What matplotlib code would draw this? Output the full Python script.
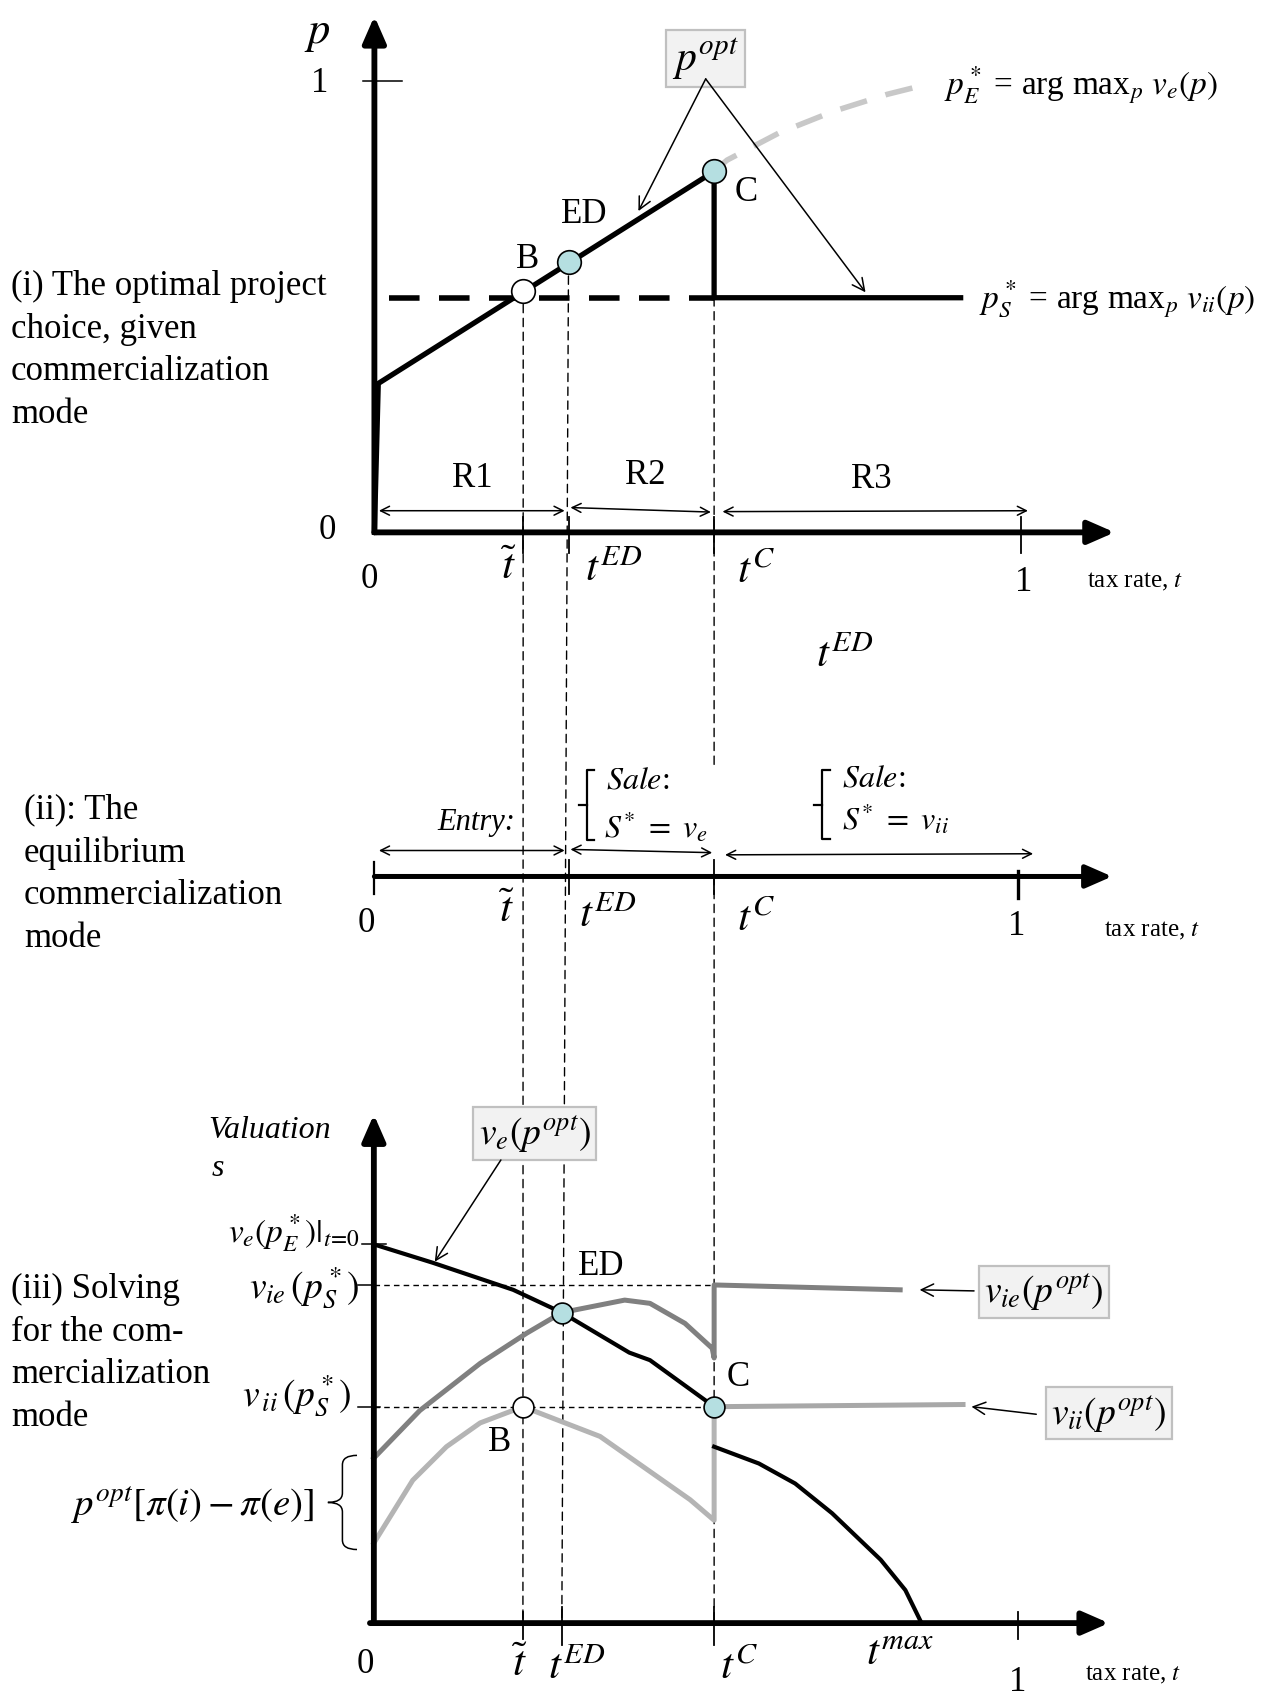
import matplotlib
matplotlib.use('Agg')
import matplotlib.pyplot as plt
from matplotlib.patches import ConnectionPatch, PathPatch
from matplotlib.path import Path

plt.rcParams['font.family'] = 'serif'
plt.rcParams['font.serif'] = ['Liberation Serif', 'DejaVu Serif']
plt.rcParams['mathtext.fontset'] = 'stix'

# key tax rates
t_tilde = 0.23
t_ed = 0.30
t_ed_iii = 0.29      # drawn slightly to the left in panel (iii)
t_c = 0.525
t_max = 0.845

# (i) optimal project choice
p_opt_t = [0.0, 0.006, t_c, t_c, 0.906]
p_opt_v = [0.0, 0.33, 0.80, 0.52, 0.52]
p_s = 0.52
p_s_dash_t = [0.023, t_c]
p_e_t = [t_c, 0.545, 0.625, 0.709, 0.793, 0.860]
p_e_v = [0.80, 0.825, 0.885, 0.933, 0.971, 0.995]
pt_B = (t_tilde, 0.536)
pt_ED = (t_ed, 0.599)
pt_C = (t_c, 0.80)

# (iii) valuations
ve_t = [0.0, 0.091, 0.215, t_ed_iii, 0.394, 0.426, t_c]
ve_v = [0.70, 0.666, 0.616, 0.574, 0.50, 0.486, 0.40]
ve2_t = [t_c, 0.594, 0.650, 0.707, 0.782, 0.820, t_max]
ve2_v = [0.326, 0.295, 0.258, 0.203, 0.117, 0.061, 0.0]
vie_t = [0.0, 0.071, 0.164, 0.236, t_ed_iii, 0.387, 0.426, 0.48, 0.522, t_c, t_c, 0.812]
vie_v = [0.305, 0.393, 0.48, 0.536, 0.574, 0.597, 0.591, 0.554, 0.508, 0.49, 0.625, 0.616]
vii_t = [0.0, 0.06, 0.112, 0.164, t_tilde, 0.349, 0.488, t_c, t_c]
vii_v = [0.148, 0.264, 0.326, 0.37, 0.40, 0.345, 0.228, 0.19, 0.40]
vii2_t = [t_c, 0.909]
vii2_v = [0.40, 0.404]
v_e0 = 0.70
v_ie_s = 0.625
v_ii_s = 0.40
q_B = (t_tilde, 0.40)
q_ED = (t_ed_iii, 0.574)
q_C = (t_c, 0.40)

W, H = 1279, 1697
K = W / 1182.0
LB = '#b5dfe1'

fig = plt.figure(figsize=(W / 100, H / 100), dpi=100)


def panel(ox, oy, sx, sy, xlim, ylim):
    x0 = (ox + xlim[0] * sx) * K
    x1 = (ox + xlim[1] * sx) * K
    yb = (oy - ylim[0] * sy) * K
    yt = (oy - ylim[1] * sy) * K
    ax = fig.add_axes([x0 / W, 1 - yb / H, (x1 - x0) / W, (yb - yt) / H])
    ax.set_xlim(xlim)
    ax.set_ylim(ylim)
    ax.set_axis_off()
    return ax


def axis_arrow(ax, start, end, lw=4.2):
    ax.annotate('', xy=end, xytext=start,
                arrowprops=dict(arrowstyle='-|>,head_length=0.8,head_width=0.35',
                                mutation_scale=20, lw=lw, color='k',
                                shrinkA=0, shrinkB=0))


def span(ax, a, b, y, y2=None):
    ax.annotate('', xy=(b, y if y2 is None else y2), xytext=(a, y),
                arrowprops=dict(arrowstyle='<->', mutation_scale=16, lw=1.1,
                                color='k', shrinkA=0, shrinkB=0))


def pointer(ax, frm, to):
    ax.annotate('', xy=to, xytext=frm,
                arrowprops=dict(arrowstyle='->', mutation_scale=22, lw=1.1,
                                color='k', shrinkA=0, shrinkB=0))


def curly(ax, x, y0, y1, w):
    ym = (y0 + y1) / 2
    h = (y1 - y0) * 0.1
    verts = [(x, y1), (x - w / 2, y1), (x - w / 2, y1 - h),
             (x - w / 2, ym + h), (x - w / 2, ym), (x - w, ym),
             (x - w / 2, ym), (x - w / 2, ym - h),
             (x - w / 2, y0 + h), (x - w / 2, y0), (x, y0)]
    codes = [Path.MOVETO, Path.CURVE3, Path.CURVE3, Path.LINETO,
             Path.CURVE3, Path.CURVE3, Path.CURVE3, Path.CURVE3,
             Path.LINETO, Path.CURVE3, Path.CURVE3]
    ax.add_patch(PathPatch(Path(verts, codes), fill=False, lw=1.1, color='k'))


def bracket(ax, x, y0, y1, w):
    ym = (y0 + y1) / 2
    ax.plot([x + w, x, x, x + w], [y1, y1, y0, y0], color='k', lw=1.6)
    ax.plot([x, x - w], [ym, ym], color='k', lw=1.6)


box = dict(boxstyle='square,pad=0.15', fc='#f2f2f2', ec='#c0c0c0', lw=1.6)
FS = 25
TS = 31

# ---------------- panel (i) ----------------
ax1 = panel(346, 492, 598, 417, (-0.1, 1.4), (-0.3, 1.2))
axis_arrow(ax1, (0, 0), (1.144, 0))
axis_arrow(ax1, (0, 0), (0, 1.144))
ax1.plot([-0.018, 0.043], [1, 1], color='k', lw=1.1)
for tt in [t_tilde, t_ed, t_c, 1.0]:
    ax1.plot([tt, tt], [-0.045, 0.035], color='k', lw=1.3)
ax1.plot(p_e_t, p_e_v, color='#c8c8c8', lw=4, dashes=(5, 3.5), solid_capstyle='butt')
ax1.plot(p_s_dash_t, [p_s, p_s], color='k', lw=4, dashes=(5.5, 3.5))
ax1.plot(p_opt_t, p_opt_v, color='k', lw=3.8, solid_joinstyle='miter')
ax1.plot(*pt_B, 'o', ms=17, mfc='white', mec='k', mew=1.2, zorder=5)
ax1.plot(*pt_ED, 'o', ms=17, mfc=LB, mec='k', mew=1.2, zorder=5)
ax1.plot(*pt_C, 'o', ms=17, mfc=LB, mec='k', mew=1.2, zorder=5)
ax1.text(0.236, 0.604, 'B', fontsize=FS, ha='center', va='center')
ax1.text(0.324, 0.705, 'ED', fontsize=FS, ha='center', va='center')
ax1.text(0.575, 0.753, 'C', fontsize=FS, ha='center', va='center')
ax1.text(0.512, 1.05, r'$p^{opt}$', fontsize=30, ha='center', va='center', bbox=box)
pointer(ax1, (0.512, 1.005), (0.408, 0.712))
pointer(ax1, (0.512, 1.005), (0.759, 0.532))
ax1.text(0.88, 0.99, r'$p^*_E$ = arg max$_p$ $v_e(p)$', fontsize=24, ha='left', va='center')
ax1.text(0.935, 0.516, r'$p^*_S$ = arg max$_p$ $v_{ii}(p)$', fontsize=24, ha='left', va='center')
span(ax1, 0.007, 0.294, 0.048)
span(ax1, 0.303, 0.52, 0.055, 0.045)
span(ax1, 0.538, 1.01, 0.046, 0.048)
ax1.text(0.152, 0.12, 'R1', fontsize=FS, ha='center', va='center')
ax1.text(0.418, 0.125, 'R2', fontsize=FS, ha='center', va='center')
ax1.text(0.768, 0.118, 'R3', fontsize=FS, ha='center', va='center')
ax1.text(-0.089, 1.105, r'$p$', fontsize=32, ha='center', va='center')
ax1.text(-0.084, 0.995, '1', fontsize=FS, ha='center', va='center')
ax1.text(-0.072, 0.005, '0', fontsize=FS, ha='center', va='center')
ax1.text(-0.008, -0.105, '0', fontsize=FS, ha='center', va='center')
ax1.text(0.208, -0.08, r'$\tilde{t}$', fontsize=TS, ha='center', va='center')
ax1.text(0.37, -0.085, r'$t^{ED}$', fontsize=TS, ha='center', va='center')
ax1.text(0.59, -0.088, r'$t^{C}$', fontsize=TS, ha='center', va='center')
ax1.text(1.003, -0.11, '1', fontsize=FS, ha='center', va='center')
ax1.text(1.102, -0.11, 'tax rate, $t$', fontsize=18, ha='left', va='center')
ax1.text(0.726, -0.275, r'$t^{ED}$', fontsize=TS, ha='center', va='center')

# ---------------- panel (ii) ----------------
ax2 = panel(346, 810, 598, 100, (-0.1, 1.4), (-0.8, 1.2))
axis_arrow(ax2, (0, 0), (1.14, 0), lw=3.6)
ax2.plot([0, 0], [-0.16, 0.13], color='k', lw=1.6)
ax2.plot([t_ed, t_ed], [-0.16, 0.15], color='k', lw=1.3)
ax2.plot([t_c, t_c], [-0.16, 0.15], color='k', lw=1.3)
ax2.plot([0.995, 0.995], [-0.2, 0.05], color='k', lw=2.4)
span(ax2, 0.007, 0.294, 0.24)
span(ax2, 0.303, 0.522, 0.25, 0.22)
span(ax2, 0.542, 1.018, 0.2, 0.21)
ax2.text(0.157, 0.5, 'Entry:', fontsize=22, style='italic', ha='center', va='center')
bracket(ax2, 0.328, 0.34, 0.98, 0.012)
ax2.text(0.358, 0.88, r'$\mathit{Sale}$:', fontsize=23, ha='left', va='center')
ax2.text(0.355, 0.45, r'$S^{*}\ =\ v_e$', fontsize=23, ha='left', va='center')
bracket(ax2, 0.692, 0.35, 0.98, 0.012)
ax2.text(0.722, 0.9, r'$\mathit{Sale}$:', fontsize=23, ha='left', va='center')
ax2.text(0.722, 0.53, r'$S^{*}\ =\ v_{ii}$', fontsize=23, ha='left', va='center')
ax2.text(-0.013, -0.43, '0', fontsize=FS, ha='center', va='center')
ax2.text(0.205, -0.33, r'$\tilde{t}$', fontsize=TS, ha='center', va='center')
ax2.text(0.36, -0.37, r'$t^{ED}$', fontsize=TS, ha='center', va='center')
ax2.text(0.59, -0.40, r'$t^{C}$', fontsize=TS, ha='center', va='center')
ax2.text(0.993, -0.46, '1', fontsize=FS, ha='center', va='center')
ax2.text(1.127, -0.5, 'tax rate, $t$', fontsize=18, ha='left', va='center')

# ---------------- panel (iii) ----------------
ax3 = panel(345.5, 1500, 599, 500, (-0.1, 1.4), (-0.15, 1.0))
axis_arrow(ax3, (-0.006, 0), (1.134, 0))
axis_arrow(ax3, (0, 0), (0, 0.94))
ax3.plot([-0.018, 0.019], [v_e0, v_e0], color='k', lw=1.1)
ax3.plot([-0.025, 0.0], [v_ie_s, v_ie_s], color='k', lw=1.1)
ax3.plot([-0.025, 0.01], [v_ii_s, v_ii_s], color='k', lw=1.1)
for tt, lo, hi in [(t_tilde, -0.03, 0.02), (t_ed_iii, -0.04, 0.03),
                   (t_c, -0.04, 0.03), (0.994, -0.03, 0.02)]:
    ax3.plot([tt, tt], [lo, hi], color='k', lw=1.3)
ax3.plot([0, t_c], [v_ie_s, v_ie_s], color='k', lw=1, dashes=(4, 3))
ax3.plot([0, t_c], [v_ii_s, v_ii_s], color='k', lw=1, dashes=(4, 3))
ax3.plot(vii_t, vii_v, color='#b4b4b4', lw=3.6)
ax3.plot(vii2_t, vii2_v, color='#a8a8a8', lw=3.6)
ax3.plot(vie_t, vie_v, color='#808080', lw=3.6)
ax3.plot(ve_t, ve_v, color='k', lw=3)
ax3.plot(ve2_t, ve2_v, color='k', lw=3)
ax3.plot(*q_B, 'o', ms=15, mfc='white', mec='k', mew=1.2, zorder=5)
ax3.plot(*q_ED, 'o', ms=15, mfc=LB, mec='k', mew=1.2, zorder=5)
ax3.plot(*q_C, 'o', ms=15, mfc=LB, mec='k', mew=1.2, zorder=5)
ax3.text(0.351, 0.66, 'ED', fontsize=FS, ha='center', va='center')
ax3.text(0.562, 0.454, 'C', fontsize=FS, ha='center', va='center')
ax3.text(0.194, 0.334, 'B', fontsize=FS, ha='center', va='center')
ax3.text(0.248, 0.905, r'$v_e(p^{opt})$', fontsize=27, ha='center', va='center', bbox=box)
pointer(ax3, (0.196, 0.856), (0.094, 0.668))
ax3.text(1.034, 0.612, r'$v_{ie}(p^{opt})$', fontsize=27, ha='center', va='center', bbox=box)
pointer(ax3, (0.926, 0.614), (0.842, 0.616))
ax3.text(1.134, 0.388, r'$v_{ii}(p^{opt})$', fontsize=27, ha='center', va='center', bbox=box)
pointer(ax3, (1.022, 0.386), (0.922, 0.40))
ax3.text(-0.255, 0.91, 'Valuation', fontsize=23, style='italic', ha='left', va='center')
ax3.text(-0.251, 0.84, 's', fontsize=23, style='italic', ha='left', va='center')
ax3.text(-0.022, 0.72, r'$v_e(p^*_E)|_{t\!=\!0}$', fontsize=24, ha='right', va='center')
ax3.text(-0.022, 0.62, r'$v_{ie}\,(p^*_S)$', fontsize=27, ha='right', va='center')
ax3.text(-0.034, 0.42, r'$v_{\,ii}\,(p^*_S)$', fontsize=27, ha='right', va='center')
curly(ax3, -0.026, 0.136, 0.31, 0.045)
ax3.text(-0.093, 0.22, r'$p^{opt}[\pi(i) - \pi(e)]$', fontsize=28, ha='right', va='center')
ax3.text(-0.013, -0.076, '0', fontsize=FS, ha='center', va='center')
ax3.text(0.226, -0.078, r'$\tilde{t}$', fontsize=TS, ha='center', va='center')
ax3.text(0.313, -0.084, r'$t^{ED}$', fontsize=TS, ha='center', va='center')
ax3.text(0.563, -0.084, r'$t^{C}$', fontsize=TS, ha='center', va='center')
ax3.text(0.812, -0.058, r'$t^{max}$', fontsize=TS, ha='center', va='center')
ax3.text(0.993, -0.11, '1', fontsize=FS, ha='center', va='center')
ax3.text(1.097, -0.096, 'tax rate, $t$', fontsize=18, ha='left', va='center')

# dashed guides running through the three panels
guide = dict(color='k', lw=1, linestyle=(0, (6, 4)), zorder=-1)
fig.add_artist(ConnectionPatch(xyA=pt_B, coordsA=ax1.transData,
                               xyB=(t_tilde, 0), coordsB=ax3.transData, **guide))
fig.add_artist(ConnectionPatch(xyA=pt_ED, coordsA=ax1.transData,
                               xyB=(t_ed_iii, 0), coordsB=ax3.transData, **guide))
fig.add_artist(ConnectionPatch(xyA=(t_c, p_s), coordsA=ax1.transData,
                               xyB=(t_c, 1.03), coordsB=ax2.transData, **guide))
fig.add_artist(ConnectionPatch(xyA=(t_c, 0), coordsA=ax2.transData,
                               xyB=(t_c, 0), coordsB=ax3.transData, **guide))

# panel captions
cap = dict(fontsize=25, ha='left', va='center', linespacing=1.38)
fig.text(10 * K / W, 1 - 324 * K / H,
         '(i) The optimal project\nchoice, given\ncommercialization\nmode', **cap)
fig.text(22 * K / W, 1 - 808 * K / H,
         '(ii): The\nequilibrium\ncommercialization\nmode', **cap)
fig.text(10 * K / W, 1 - 1251 * K / H,
         '(iii) Solving\nfor the com-\nmercialization\nmode', **cap)

plt.savefig('out.png', dpi=100)
